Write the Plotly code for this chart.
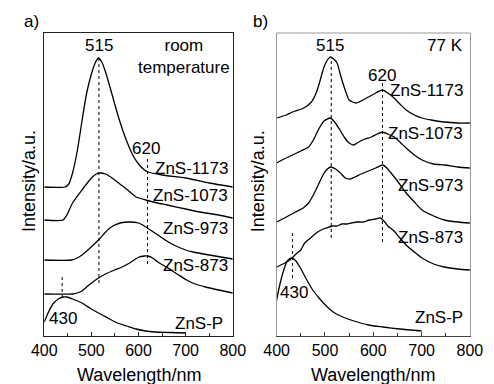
import plotly.graph_objects as go

# ---------------- Panel a (room temperature) ----------------
a1173_x = [400, 444, 452, 460, 470, 480, 490, 500, 508, 515, 522, 530, 540, 550, 560, 570, 580, 590, 600, 610, 620, 650, 700, 750, 800]
a1173_y = [149, 149, 152, 163, 185, 215, 243, 262, 273, 278, 274, 264, 248, 231, 215, 201, 189, 179, 172, 167, 164, 161, 158, 153, 149]

a1073_x = [400, 440, 448, 460, 480, 500, 510, 518, 530, 541, 555, 569, 582, 595, 615, 640, 661, 700, 730, 770, 800]
a1073_y = [116, 116, 121, 133, 146, 158, 162, 163, 162, 159, 154, 149, 144, 139, 136, 133, 131, 127, 124, 121, 118]

a973_x = [400, 458, 470, 480, 495, 515, 539, 561, 581, 600, 609, 625, 641, 660, 675, 700, 716, 750, 800]
a973_y = [76, 76, 78, 81, 87, 96, 108, 113, 114, 113, 111, 106, 101, 95, 91, 86, 84, 81, 77]

a873_x = [400, 460, 470, 480, 495, 515, 530, 549, 565, 581, 601, 612, 620, 630, 641, 655, 669, 685, 702, 720, 742, 770, 800]
a873_y = [42, 42, 43, 45, 51, 58, 62, 66, 69, 73, 79, 80, 80, 78, 74, 70, 66, 61, 56, 52, 49, 46, 43]

aP_x = [400, 410, 420, 430, 440, 448, 460, 480, 500, 515, 535, 555, 575, 595, 615, 635, 665, 700]
aP_y = [14, 25, 33, 37, 39, 39, 37, 33, 27, 23, 18, 13, 10, 7, 5, 4, 3.5, 3]

# dashed marker lines: (wavelength, y_top, y_bottom)
a_marks = [(516, 278, 53), (619, 178, 72), (438, 61, 38)]

# ---------------- Panel b (77 K) ----------------
b1173_x = [400, 420, 433, 456, 472, 480, 486, 492, 498, 505, 511, 518, 525, 531, 537, 544, 550, 557, 564, 575, 590, 605, 619, 630, 643, 655, 668, 685, 701, 720, 746, 775, 800]
b1173_y = [218, 221, 224, 228, 234, 241, 249, 259, 269, 276, 279, 277, 273, 263, 253, 243, 236, 234, 233, 235, 239, 243, 246, 243, 238, 232, 226, 221, 218, 216, 214, 213, 213]

b1073_x = [400, 415, 433, 450, 466, 476, 486, 498, 511, 520, 531, 541, 550, 560, 570, 583, 596, 608, 619, 630, 643, 655, 668, 685, 701, 725, 747, 775, 800]
b1073_y = [173, 177, 181, 185, 189, 196, 206, 215, 218, 214, 206, 198, 193, 191, 194, 197, 199, 202, 204, 202, 199, 194, 188, 181, 176, 172, 171, 169, 168]

b973_x = [400, 420, 439, 455, 466, 476, 486, 497, 505, 512, 522, 532, 542, 552, 562, 575, 590, 605, 619, 628, 635, 650, 668, 685, 701, 725, 747, 775, 800]
b973_y = [114, 119, 124, 128, 133, 141, 151, 162, 167, 169, 167, 163, 158, 157, 159, 162, 165, 168, 171, 168, 164, 155, 143, 134, 126, 120, 116, 114, 113]

b873_x = [400, 413, 427, 440, 450, 458, 470, 482, 492, 503, 515, 525, 535, 545, 555, 567, 580, 592, 605, 615, 622, 630, 643, 655, 668, 685, 701, 725, 747, 775, 800]
b873_y = [69, 72, 76, 82, 86, 93, 98, 103, 106, 108, 110, 110, 112, 112, 113, 114, 114, 116, 117, 118, 115, 110, 105, 98, 91, 84, 78, 72, 69, 67, 66]

bP_x = [400, 405, 410, 416, 422, 430, 438, 448, 457, 466, 476, 486, 495, 505, 520, 537, 560, 590, 620, 655, 700]
bP_y = [36, 48, 58, 68, 75, 78, 76, 69, 61, 53, 45, 39, 34, 29, 23, 19, 15, 11, 9, 7, 5]

b_marks = [(513, 279, 98), (619, 256, 94), (433, 106, 58)]

x_ticks = [400, 500, 600, 700, 800]

FONT = "Arial, Liberation Sans, sans-serif"
W, H = 494, 384

fig = go.Figure()

def add_curves(curves, xa, ya):
    for xs, ys in curves:
        fig.add_trace(go.Scatter(x=xs, y=ys, mode="lines", xaxis=xa, yaxis=ya,
                                 line=dict(color="black", width=1.3, shape="spline", smoothing=0.6),
                                 showlegend=False, hoverinfo="skip"))

def add_marks(marks, xa, ya):
    for wl, top, bot in marks:
        fig.add_trace(go.Scatter(x=[wl, wl], y=[bot, top], mode="lines", xaxis=xa, yaxis=ya,
                                 line=dict(color="black", width=1, dash="dot"),
                                 showlegend=False, hoverinfo="skip"))

add_curves([(a1173_x, a1173_y), (a1073_x, a1073_y), (a973_x, a973_y), (a873_x, a873_y), (aP_x, aP_y)], "x", "y")
add_marks(a_marks, "x", "y")
add_curves([(b1173_x, b1173_y), (b1073_x, b1073_y), (b973_x, b973_y), (b873_x, b873_y), (bP_x, bP_y)], "x2", "y2")
add_marks(b_marks, "x2", "y2")

ydom = [1 - 336 / H, 1 - 33 / H]
xdom_a = [33 / W, 232 / W]
xdom_b = [278.3 / W, 482.3 / W]

common_x = dict(range=[400, 800], tickvals=x_ticks, ticks="inside", ticklen=4, tickwidth=1,
                minor=dict(dtick=50, ticks="inside", ticklen=3, tickwidth=1, tickcolor="#333"),
                showgrid=False, zeroline=False, showline=True, linewidth=1,
                tickfont=dict(family=FONT, size=16, color="black"))
common_y = dict(range=[0, 303], showticklabels=False, ticks="", showgrid=False, zeroline=False,
                showline=True, linewidth=1, domain=ydom)

fig.update_layout(
    width=W, height=H, margin=dict(l=0, r=0, t=0, b=0),
    paper_bgcolor="white", plot_bgcolor="white",
    xaxis=dict(domain=xdom_a, anchor="y", linecolor="#222", mirror=True, tickcolor="#222", **common_x),
    yaxis=dict(anchor="x", linecolor="#222", mirror=True, **common_y),
    xaxis2=dict(domain=xdom_b, anchor="y2", linecolor="#444", mirror=False, tickcolor="#444", **common_x),
    yaxis2=dict(anchor="x2", linecolor="#999", mirror=True, **common_y),
)
# top border of panel b (gray)
fig.add_shape(type="line", xref="x2 domain", yref="y2 domain", x0=0, x1=1, y0=1, y1=1,
              line=dict(color="#999", width=1))

def ann(text, x, y, xref, yref, xanchor="center", size=17, **kw):
    fig.add_annotation(text=text, x=x, y=y, xref=xref, yref=yref, xanchor=xanchor, yanchor="middle",
                       showarrow=False, font=dict(family=FONT, size=size, color="black"), **kw)

# panel a labels
ann("515", 516.6, 291, "x", "y")
ann("room<br>temperature", 697, 280, "x", "y")
ann("620", 615, 188, "x", "y")
ann("ZnS-1173", 794, 168, "x", "y", xanchor="right")
ann("ZnS-1073", 794, 141, "x", "y", xanchor="right")
ann("ZnS-973", 794, 108, "x", "y", xanchor="right")
ann("ZnS-873", 794, 71, "x", "y", xanchor="right")
ann("ZnS-P", 784, 13, "x", "y", xanchor="right")
ann("430", 439, 18, "x", "y")

# panel b labels
ann("515", 511, 291, "x2", "y2")
ann("77 K", 790, 291, "x2", "y2", xanchor="right")
ann("620", 617, 261, "x2", "y2")
ann("ZnS-1173", 790, 246, "x2", "y2", xanchor="right")
ann("ZnS-1073", 790, 203, "x2", "y2", xanchor="right")
ann("ZnS-973", 790, 151, "x2", "y2", xanchor="right")
ann("ZnS-873", 790, 99, "x2", "y2", xanchor="right")
ann("ZnS-P", 790, 19, "x2", "y2", xanchor="right")
ann("430", 435, 44, "x2", "y2")

# panel letters
ann("a)", 19 / W, 1 - 21 / H, "paper", "paper", size=17)
ann("b)", 261 / W, 1 - 21 / H, "paper", "paper", size=17)

# axis titles
ann("Wavelength/nm", 132.5 / W, 1 - 375 / H, "paper", "paper", size=18)
ann("Wavelength/nm", 380.3 / W, 1 - 375 / H, "paper", "paper", size=18)
ann("Intensity/a.u.", 17 / W, 1 - 181 / H, "paper", "paper", size=18, textangle=-90)
ann("Intensity/a.u.", 259 / W, 1 - 181 / H, "paper", "paper", size=18, textangle=-90)

fig.write_html("out.html")
